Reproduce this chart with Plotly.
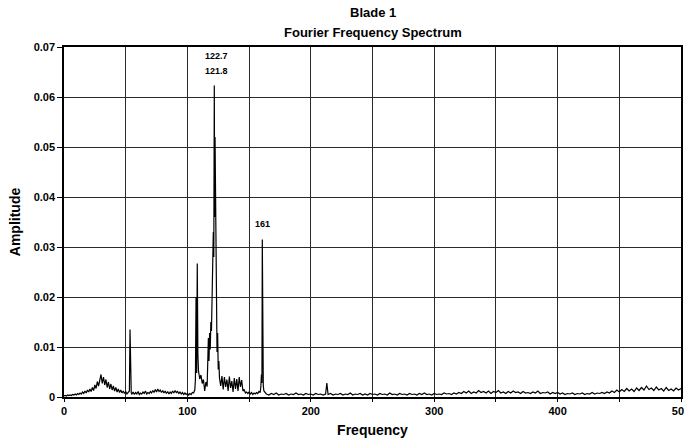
import plotly.graph_objects as go

# ---- data ----
freq = [
    0, 1, 2, 3, 4, 5, 6, 7, 8, 9,
    10, 11, 12, 13, 14, 15, 16, 17, 18, 19,
    20, 21, 22, 23, 24, 25, 26, 27, 28, 29,
    30, 31, 32, 33, 34, 35, 36, 37, 38, 39,
    40, 41, 42, 43, 44, 45, 46, 47, 48, 49,
    50, 51, 52, 53, 53.5, 54, 54.5,
    55, 56, 57, 58, 59, 60, 61, 62, 63, 64,
    65, 66, 67, 68, 69, 70, 71, 72, 73, 74,
    75, 76, 77, 78, 79, 80, 81, 82, 83, 84,
    85, 86, 87, 88, 89, 90, 91, 92, 93, 94,
    95, 96, 97, 98, 99, 100, 101, 102, 103, 104,
    105, 106, 106.5, 107, 107.5, 108, 108.5, 109, 110, 111,
    112, 113, 114, 115, 116, 116.5, 117, 117.5, 118, 118.5,
    119, 119.5, 120, 120.5, 121, 121.4, 121.8, 122.1, 122.4, 122.7,
    123, 123.3, 123.6, 124, 124.5, 125, 125.5,
    126, 127, 128, 129, 130, 131, 132, 133, 134, 135,
    136, 137, 138, 139, 140, 141, 142, 143, 144, 145,
    146, 147, 148, 149, 150, 151, 152, 153, 154, 155,
    156, 157, 158, 159, 159.5, 160, 160.4, 160.7, 161, 161.5,
    162, 163,
    164, 166, 168, 170, 172, 174, 176, 178, 180, 182,
    184, 186, 188, 190, 192, 194, 196, 198, 200, 202,
    204, 206, 208, 210, 212, 213, 213.5,
    214, 216, 218, 220, 222, 224, 226, 228, 230, 232,
    234, 236, 238, 240, 242, 244, 246, 248, 250, 252,
    254, 256, 258, 260, 262, 264, 266, 268, 270, 272,
    274, 276, 278, 280, 282, 284, 286, 288, 290, 292,
    294, 296, 298, 300, 302, 304, 306, 308, 310, 312,
    314, 316, 318, 320,
    322, 324, 326, 328, 330, 332, 334, 336, 338, 340,
    342, 344, 346, 348, 350, 352, 354, 356, 358, 360,
    362, 364, 366, 368, 370, 372, 374, 376, 378, 380,
    382, 384, 386, 388, 390, 392, 394, 396, 398, 400,
    402, 404, 406, 408, 410, 412, 414, 416, 418, 420,
    422, 424, 426, 428, 430, 432, 434, 436, 438, 440,
    442, 444, 446, 448, 450, 452, 454, 456, 458, 460,
    462, 464, 466, 468, 470, 472, 474, 476, 478, 480,
    482, 484, 486, 488, 490, 492, 494, 496, 498, 500,
]

amplitude = [
    0.0002, 0.0003, 0.0002, 0.0004, 0.0003, 0.0004, 0.0003, 0.0005, 0.0004, 0.0006,
    0.0004, 0.0007, 0.0005, 0.0008, 0.0006, 0.0010, 0.0007, 0.0012, 0.0008, 0.0014,
    0.0010, 0.0016, 0.0011, 0.0019, 0.0013, 0.0024, 0.0017, 0.0031, 0.0022, 0.0038,
    0.0045, 0.0027, 0.0040, 0.0024, 0.0035, 0.0019, 0.0030, 0.0016, 0.0026, 0.0014,
    0.0022, 0.0012, 0.0019, 0.0010, 0.0016, 0.0009, 0.0014, 0.0008, 0.0012, 0.0007,
    0.0011, 0.0006, 0.0009, 0.0012, 0.0135, 0.0050, 0.0008,
    0.0006, 0.0010, 0.0005, 0.0009, 0.0006, 0.0011, 0.0005, 0.0008, 0.0006, 0.0010,
    0.0007, 0.0012, 0.0006, 0.0009, 0.0007, 0.0011, 0.0008, 0.0013, 0.0009, 0.0015,
    0.0010, 0.0016, 0.0011, 0.0014, 0.0009, 0.0013, 0.0008, 0.0012, 0.0007, 0.0011,
    0.0006, 0.0010, 0.0007, 0.0012, 0.0008, 0.0013, 0.0009, 0.0011, 0.0007, 0.0010,
    0.0006, 0.0009, 0.0005, 0.0008, 0.0005, 0.0007, 0.0004, 0.0007, 0.0005, 0.0009,
    0.0008, 0.0014, 0.0035, 0.0200, 0.0048, 0.0267, 0.0085, 0.0052, 0.0036, 0.0044,
    0.0027, 0.0035, 0.0012, 0.0030, 0.0021, 0.0058, 0.0118, 0.0072, 0.0128, 0.0095,
    0.0150, 0.0132, 0.0220, 0.0248, 0.0330, 0.0280, 0.0623, 0.0360, 0.0520, 0.0410,
    0.0250, 0.0138, 0.0185, 0.0090, 0.0128, 0.0055, 0.0072,
    0.0038, 0.0022, 0.0042, 0.0015, 0.0040, 0.0020, 0.0035, 0.0012, 0.0041, 0.0018,
    0.0032, 0.0010, 0.0038, 0.0016, 0.0036, 0.0012, 0.0040, 0.0020, 0.0034, 0.0012,
    0.0015, 0.0008, 0.0010, 0.0007, 0.0010, 0.0006, 0.0009, 0.0005, 0.0008, 0.0006,
    0.0009, 0.0007, 0.0011, 0.0009, 0.0020, 0.0045, 0.0028, 0.0315, 0.0040, 0.0022,
    0.0012, 0.0008,
    0.0006, 0.0004, 0.0007, 0.0005, 0.0008, 0.0004, 0.0006, 0.0005, 0.0007, 0.0004,
    0.0006, 0.0005, 0.0008, 0.0005, 0.0006, 0.0004, 0.0007, 0.0005, 0.0006, 0.0004,
    0.0007, 0.0005, 0.0006, 0.0004, 0.0006, 0.0028, 0.0005,
    0.0005, 0.0007, 0.0004, 0.0006, 0.0005, 0.0007, 0.0004, 0.0006, 0.0005, 0.0008,
    0.0004, 0.0006, 0.0005, 0.0007, 0.0004, 0.0006, 0.0004, 0.0007, 0.0005, 0.0006,
    0.0004, 0.0007, 0.0005, 0.0006, 0.0004, 0.0008, 0.0005, 0.0006, 0.0004, 0.0007,
    0.0005, 0.0006, 0.0004, 0.0007, 0.0005, 0.0006, 0.0004, 0.0007, 0.0005, 0.0008,
    0.0005, 0.0006, 0.0004, 0.0007, 0.0005, 0.0006, 0.0005, 0.0008, 0.0006, 0.0007,
    0.0005, 0.0008, 0.0006, 0.0009,
    0.0007, 0.0011, 0.0008, 0.0012, 0.0007, 0.0010, 0.0008, 0.0013, 0.0009, 0.0011,
    0.0008, 0.0012, 0.0007, 0.0011, 0.0009, 0.0013, 0.0008, 0.0010, 0.0007, 0.0011,
    0.0008, 0.0012, 0.0009, 0.0010, 0.0007, 0.0011, 0.0008, 0.0009, 0.0007, 0.0010,
    0.0008, 0.0012, 0.0007, 0.0009, 0.0008, 0.0010, 0.0006, 0.0009, 0.0007, 0.0009,
    0.0006, 0.0008, 0.0005, 0.0007, 0.0006, 0.0008, 0.0005, 0.0007, 0.0006, 0.0008,
    0.0005, 0.0007, 0.0006, 0.0009, 0.0006, 0.0008, 0.0007, 0.0009, 0.0007, 0.0010,
    0.0008, 0.0012, 0.0009, 0.0014, 0.0010, 0.0015, 0.0011, 0.0017, 0.0012, 0.0016,
    0.0011, 0.0018, 0.0013, 0.0019, 0.0014, 0.0022, 0.0015, 0.0018, 0.0013, 0.0020,
    0.0014, 0.0017, 0.0012, 0.0019, 0.0013, 0.0016, 0.0012, 0.0018, 0.0014, 0.0017,
]

x_tick_vals = [0, 50, 100, 150, 200, 250, 300, 350, 400, 450, 500]
x_tick_text = ["0", "", "100", "", "200", "", "300", "", "400", "", "500"]
y_tick_vals = [0, 0.01, 0.02, 0.03, 0.04, 0.05, 0.06, 0.07]
y_tick_text = ["0", "0.01", "0.02", "0.03", "0.04", "0.05", "0.06", "0.07"]

peak_labels = ["122.7", "121.8", "161"]
peak_x = [123.5, 123.5, 160.7]
peak_y = [0.0683, 0.0653, 0.0347]

FONT = "Liberation Sans, Arial, sans-serif"

fig = go.Figure()
fig.add_trace(go.Scatter(
    x=freq, y=amplitude, mode="lines",
    line=dict(color="black", width=1.2),
    hoverinfo="skip", showlegend=False,
))

for t, px_, py_ in zip(peak_labels, peak_x, peak_y):
    fig.add_annotation(x=px_, y=py_, text="<b>" + t + "</b>", showarrow=False,
                       font=dict(family=FONT, size=9, color="black"))

fig.add_annotation(xref="paper", yref="paper", x=0.5, y=1.0, yshift=35, yanchor="middle",
                   text="<b>Blade 1</b>", showarrow=False,
                   font=dict(family=FONT, size=13, color="black"))
fig.add_annotation(xref="paper", yref="paper", x=0.5, y=1.0, yshift=15, yanchor="middle",
                   text="<b>Fourier Frequency Spectrum</b>", showarrow=False,
                   font=dict(family=FONT, size=13, color="black"))

fig.update_layout(
    width=684, height=445,
    margin=dict(l=64, r=3, t=47, b=48, autoexpand=False),
    paper_bgcolor="white", plot_bgcolor="white",
    font=dict(family=FONT, color="black", size=11),
)
fig.update_xaxes(
    range=[0, 500], tickvals=x_tick_vals, ticktext=[f"<b>{t}</b>" for t in x_tick_text],
    ticklabeloverflow="allow", automargin=False,
    showgrid=True, gridcolor="#2a2a2a", gridwidth=1,
    showline=True, linecolor="black", linewidth=1.5, mirror=True,
    ticks="outside", ticklen=3, tickcolor="black",
    zeroline=False,
    title=dict(text="<b>Frequency</b>", font=dict(family=FONT, size=14), standoff=9),
    tickfont=dict(family=FONT, size=11),
)
fig.update_yaxes(
    range=[0, 0.07], tickvals=y_tick_vals, ticktext=[f"<b>{t}</b>" for t in y_tick_text],
    automargin=False,
    showgrid=True, gridcolor="#2a2a2a", gridwidth=1,
    showline=True, linecolor="black", linewidth=1.5, mirror=True,
    ticks="outside", ticklen=5, tickcolor="black",
    zeroline=False,
    title=dict(text="<b>Amplitude</b>", font=dict(family=FONT, size=14), standoff=10),
    tickfont=dict(family=FONT, size=11),
)

fig.write_html("out.html")
